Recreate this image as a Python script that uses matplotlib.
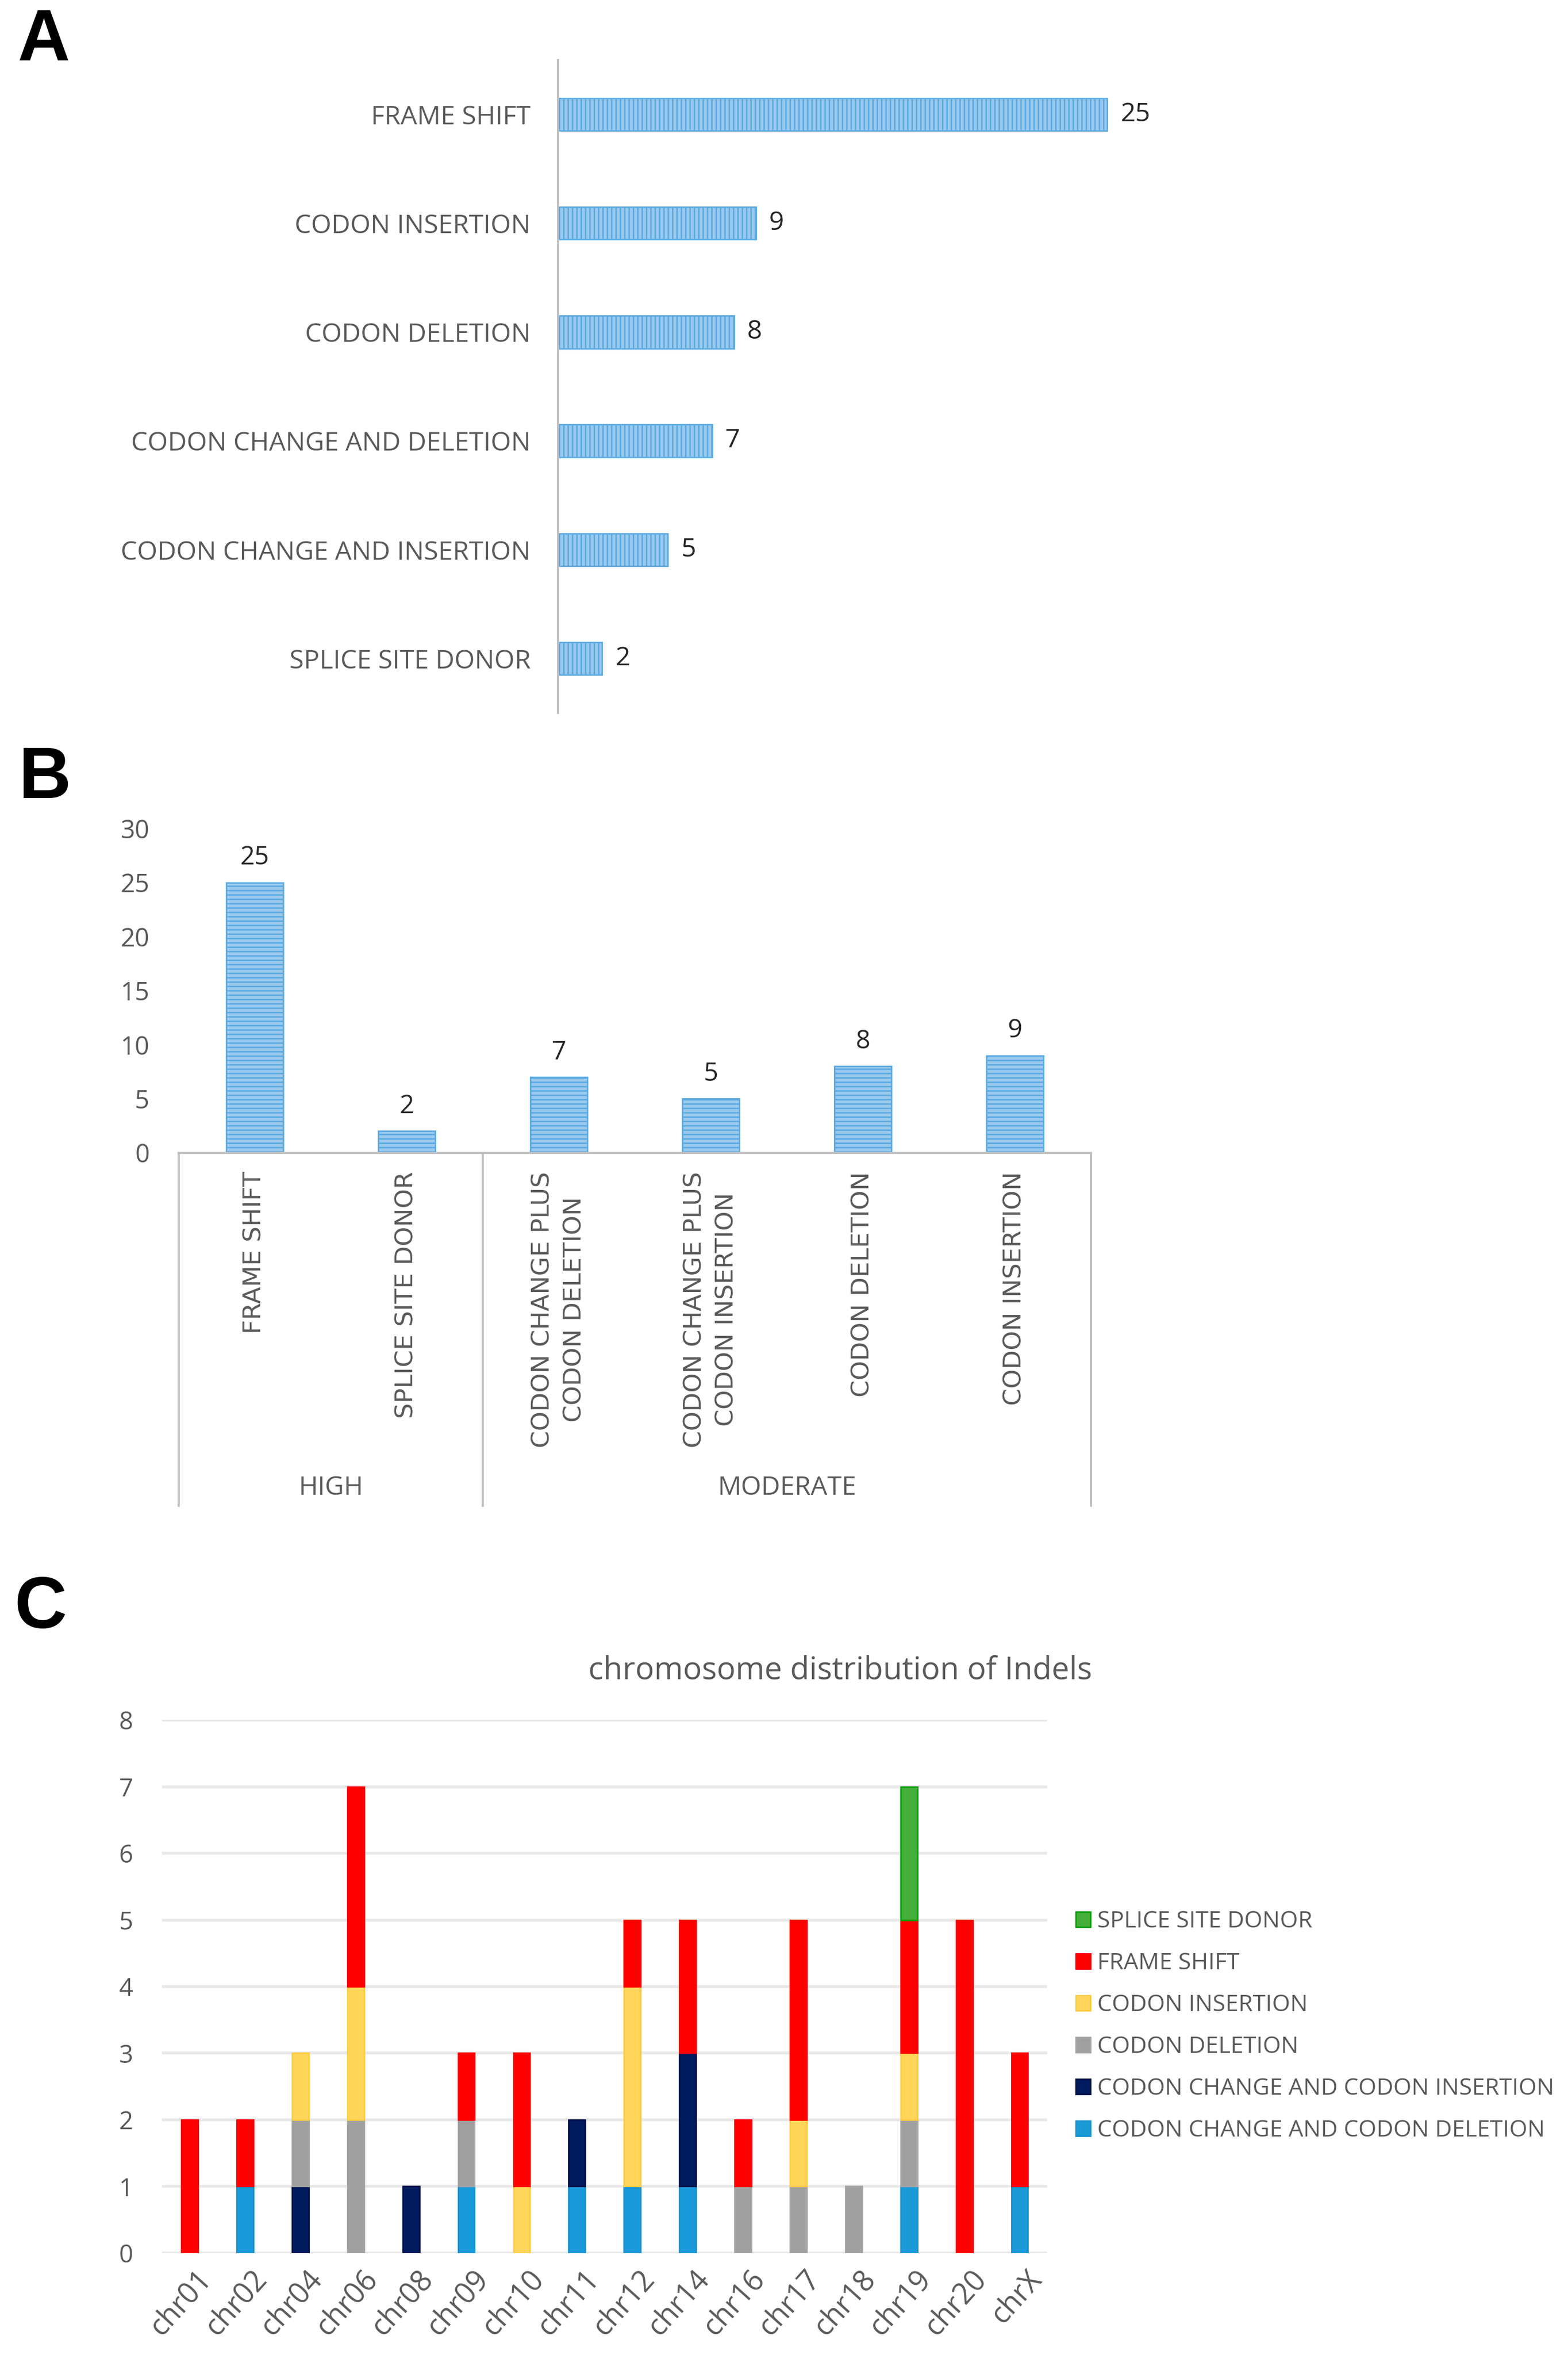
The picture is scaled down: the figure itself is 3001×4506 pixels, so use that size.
import matplotlib
matplotlib.use("Agg")
import matplotlib.pyplot as plt
import matplotlib.transforms as mtrans
from matplotlib.patches import Patch

plt.rcParams["font.family"] = ["Open Sans", "DejaVu Sans"]
plt.rcParams["hatch.linewidth"] = 2.0

# -----------------------------
# data
# -----------------------------
a_labels = ["FRAME SHIFT", "CODON INSERTION", "CODON DELETION",
            "CODON CHANGE AND DELETION", "CODON CHANGE AND INSERTION",
            "SPLICE SITE DONOR"]
a_values = [25, 9, 8, 7, 5, 2]

b_labels = ["FRAME SHIFT", "SPLICE SITE DONOR",
            "CODON CHANGE PLUS\nCODON DELETION",
            "CODON CHANGE PLUS\nCODON INSERTION",
            "CODON DELETION", "CODON INSERTION"]
b_values = [25, 2, 7, 5, 8, 9]
b_groups = ["HIGH", "MODERATE"]
b_group_sizes = [2, 4]

chroms = ["chr01", "chr02", "chr04", "chr06", "chr08", "chr09", "chr10", "chr11",
          "chr12", "chr14", "chr16", "chr17", "chr18", "chr19", "chr20", "chrX"]
# stacked from bottom to top
cc_deletion = [0, 1, 0, 0, 0, 1, 0, 1, 1, 1, 0, 0, 0, 1, 0, 1]
cc_insertion = [0, 0, 1, 0, 1, 0, 0, 1, 0, 2, 0, 0, 0, 0, 0, 0]
codon_deletion = [0, 0, 1, 2, 0, 1, 0, 0, 0, 0, 1, 1, 1, 1, 0, 0]
codon_insertion = [0, 0, 1, 2, 0, 0, 1, 0, 3, 0, 0, 1, 0, 1, 0, 0]
frame_shift = [2, 1, 0, 3, 0, 1, 2, 0, 1, 2, 1, 3, 0, 2, 5, 2]
splice_donor = [0, 0, 0, 0, 0, 0, 0, 0, 0, 0, 0, 0, 0, 2, 0, 0]

c_series = [
    ("CODON CHANGE AND CODON DELETION", cc_deletion, "#1A9AD9", "#1590CF"),
    ("CODON CHANGE AND CODON INSERTION", cc_insertion, "#001A5E", "#000E45"),
    ("CODON DELETION", codon_deletion, "#A0A0A0", "#A5A5A5"),
    ("CODON INSERTION", codon_insertion, "#FFD55A", "#FFCC40"),
    ("FRAME SHIFT", frame_shift, "#FF0000", "#FF0000"),
    ("SPLICE SITE DONOR", splice_donor, "#43AE3A", "#00A000"),
]

TXT = "#595959"
AXC = "#BFBFBF"
FILL = "#9ACAEE"
HATCH = "#5AAAE2"

# reference layout is about 1045 x 1569 "screen" units
def box(l, t, r, b):
    return [l / 1045, 1 - b / 1569, (r - l) / 1045, (b - t) / 1569]

fig = plt.figure(figsize=(30.01, 45.06), dpi=100)

for letter, (lx, ly) in zip("ABC", [(29, 28), (30, 519), (27, 1072)]):
    fig.text(lx / 1045, 1 - ly / 1569, letter, fontsize=100, fontweight="bold",
             family=["Liberation Sans", "DejaVu Sans"], ha="center", va="center")

# -----------------------------
# A: horizontal bars
# -----------------------------
axA = fig.add_axes(box(372, 40, 1000, 475))
ya = list(range(len(a_labels)))
bars = axA.barh(ya, a_values, height=0.3, color=FILL, edgecolor=HATCH,
                hatch="||", linewidth=2)
axA.set_xlim(0, 42.9)
axA.set_ylim(5.5, -0.5)
axA.set_yticks(ya, a_labels, fontsize=36, color=TXT)
axA.set_xticks([])
axA.tick_params(axis="y", length=0, pad=38)
for s in ["top", "right", "bottom"]:
    axA.spines[s].set_visible(False)
axA.spines["left"].set_color(AXC)
axA.spines["left"].set_linewidth(3)
axA.bar_label(bars, padding=18, fontsize=36, color="#262626")

# -----------------------------
# B: vertical bars with groups
# -----------------------------
axB = fig.add_axes(box(119, 552, 727, 768))
xb = list(range(len(b_labels)))
bars = axB.bar(xb, b_values, width=0.375, color=FILL, edgecolor=HATCH,
               hatch="--", linewidth=2)
axB.set_xlim(-0.5, len(b_labels) - 0.5)
axB.set_ylim(0, 30)
axB.set_yticks(range(0, 31, 5))
axB.tick_params(axis="y", length=0, pad=40, labelsize=35, labelcolor=TXT)
axB.set_xticks(xb, b_labels, rotation=90, multialignment="center",
               fontsize=34, color=TXT, family=["DejaVu Sans"], linespacing=1.45)
axB.tick_params(axis="x", length=0, pad=26)
for s in ["top", "right", "left"]:
    axB.spines[s].set_visible(False)
axB.spines["bottom"].set_color(AXC)
axB.spines["bottom"].set_linewidth(3)
axB.bar_label(bars, padding=16, fontsize=35, color="#262626")

trans = mtrans.blended_transform_factory(axB.transData, axB.transAxes)
edges = [-0.5]
for n in b_group_sizes:
    edges.append(edges[-1] + n)
for e in edges:
    axB.plot([e, e], [0, -1.088], transform=trans, color=AXC, lw=3, clip_on=False)
for g, lo, hi in zip(b_groups, edges[:-1], edges[1:]):
    axB.text((lo + hi) / 2, -1.035, g, transform=trans, ha="center", va="center",
             fontsize=36, color=TXT)

# -----------------------------
# C: stacked bars by chromosome
# -----------------------------
axC = fig.add_axes(box(108, 1146, 698, 1501))
xc = list(range(len(chroms)))
bottom = [0] * len(chroms)
handles = []
for name, vals, col, edge in c_series:
    # skip empty segments so they leave no edge line
    xs = [x for x, v in zip(xc, vals) if v > 0]
    hs = [v for v in vals if v > 0]
    bs = [b for b, v in zip(bottom, vals) if v > 0]
    axC.bar(xs, hs, bottom=bs, width=0.3, color=col, edgecolor=edge,
            linewidth=2, label=name)
    bottom = [b + v for b, v in zip(bottom, vals)]
    handles.append(Patch(facecolor=col, edgecolor=edge, linewidth=2, label=name))

axC.set_xlim(-0.5, len(chroms) - 0.5)
axC.set_ylim(0, 8)
axC.set_yticks(range(0, 9))
axC.yaxis.grid(True, color="#E8E8E8", linewidth=4)
axC.set_axisbelow(True)
for s in axC.spines.values():
    s.set_visible(False)
axC.tick_params(axis="y", length=0, pad=40, labelsize=34, labelcolor=TXT)
axC.set_xticks(xc, chroms, rotation=48, ha="right", rotation_mode="anchor",
               fontsize=40, color=TXT)
axC.tick_params(axis="x", length=0, pad=16)
for lbl in axC.get_xticklabels():
    lbl.set_transform(lbl.get_transform() + mtrans.ScaledTranslation(0.12, 0, fig.dpi_scale_trans))

fig.text(560 / 1045, 1 - 1113 / 1569, "chromosome distribution of Indels",
         ha="center", va="center", fontsize=43, color=TXT)

leg = fig.legend(handles[::-1], [h.get_label() for h in handles[::-1]],
                 loc="center left", bbox_to_anchor=(717 / 1045, 1 - 1350 / 1569),
                 frameon=False, fontsize=32, handlelength=0.62, handleheight=0.62,
                 handletextpad=0.3, labelspacing=0.8, borderpad=0, borderaxespad=0)
for t in leg.get_texts():
    t.set_color(TXT)

fig.savefig("out.png", dpi=100)
